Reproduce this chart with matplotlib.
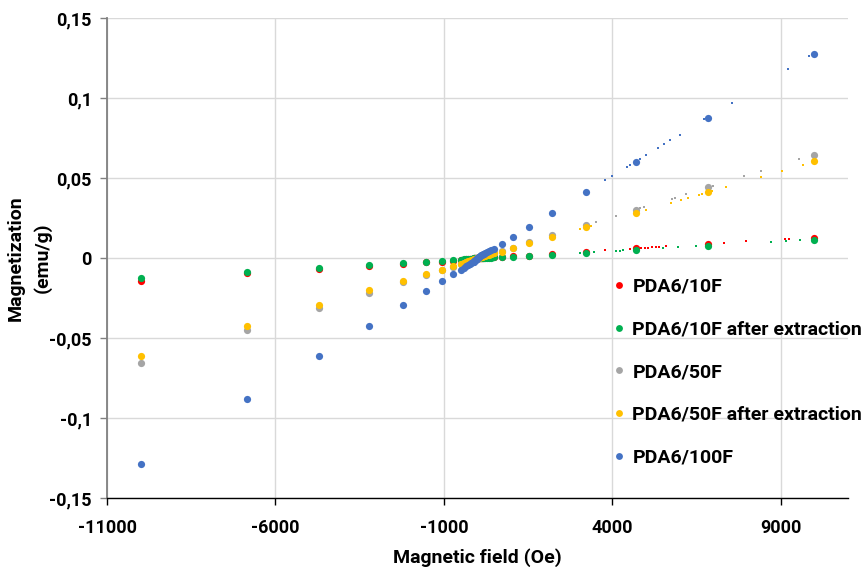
import matplotlib
matplotlib.use("Agg")
import matplotlib.pyplot as plt
from matplotlib.ticker import FuncFormatter

plt.rcParams['font.family'] = ['Roboto', 'DejaVu Sans']
plt.rcParams['font.weight'] = 'bold'
plt.rcParams['axes.unicode_minus'] = False

# magnetic field (Oe) for the measured points
field = [-10000, -6850, -4700, -3230, -2220, -1520, -1060, -720, -480, -400, -330, -270,
         -225, -180, -150, -120, -100, -70, -50, -30, -10, 10, 30, 50, 70, 100, 120, 150,
         180, 225, 270, 330, 400, 480, 720, 1060, 1520, 2220, 3230, 4700, 6850, 10000]

# magnetization (emu/g)
m_10f = [-0.0141, -0.0095, -0.0070, -0.0051, -0.0036, -0.0028, -0.0022, -0.0017, -0.0012, -0.0010,
         -0.0009, -0.0008, -0.0007, -0.0006, -0.0005, -0.0004, -0.0003, -0.0002, -0.0002, -0.0001,
         0.0000, 0.0000, 0.0001, 0.0002, 0.0002, 0.0003, 0.0003, 0.0003, 0.0004, 0.0004, 0.0005,
         0.0005, 0.0006, 0.0006, 0.0008, 0.0010, 0.0014, 0.0022, 0.0040, 0.0061, 0.0089, 0.0127]
m_10f_ext = [-0.0124, -0.0085, -0.0061, -0.0043, -0.0033, -0.0024, -0.0016, -0.0014, -0.0010, -0.0009,
             -0.0008, -0.0007, -0.0006, -0.0005, -0.0004, -0.0003, -0.0003, -0.0002, -0.0001, -0.0001,
             0.0000, 0.0000, 0.0001, 0.0001, 0.0001, 0.0002, 0.0002, 0.0002, 0.0002, 0.0003, 0.0003,
             0.0003, 0.0003, 0.0004, 0.0005, 0.0007, 0.0011, 0.0018, 0.0034, 0.0047, 0.0072, 0.0110]
m_50f = [-0.0655, -0.0452, -0.0314, -0.0218, -0.0152, -0.0105, -0.0075, -0.0054, -0.0038, -0.0032,
         -0.0027, -0.0022, -0.0019, -0.0016, -0.0013, -0.0011, -0.0009, -0.0006, -0.0004, -0.0002,
         -0.0001, 0.0001, 0.0002, 0.0004, 0.0005, 0.0007, 0.0009, 0.0011, 0.0013, 0.0016, 0.0019,
         0.0022, 0.0026, 0.0031, 0.0042, 0.0064, 0.0097, 0.0141, 0.0204, 0.0302, 0.0443, 0.0646]
m_50f_ext = [-0.0613, -0.0423, -0.0291, -0.0202, -0.0143, -0.0101, -0.0072, -0.0051, -0.0036, -0.0030,
             -0.0025, -0.0021, -0.0018, -0.0015, -0.0012, -0.0010, -0.0008, -0.0006, -0.0004, -0.0002,
             -0.0001, 0.0001, 0.0002, 0.0004, 0.0005, 0.0007, 0.0009, 0.0011, 0.0013, 0.0015, 0.0018,
             0.0021, 0.0025, 0.0029, 0.0039, 0.0060, 0.0093, 0.0130, 0.0193, 0.0281, 0.0412, 0.0604]
m_100f = [-0.1286, -0.0884, -0.0613, -0.0423, -0.0293, -0.0204, -0.0141, -0.0101, -0.0074, -0.0063,
          -0.0053, -0.0045, -0.0038, -0.0032, -0.0027, -0.0022, -0.0019, -0.0014, -0.0011, -0.0007,
          -0.0002, 0.0002, 0.0006, 0.0009, 0.0012, 0.0016, 0.0019, 0.0023, 0.0027, 0.0033, 0.0039,
          0.0046, 0.0052, 0.0058, 0.0086, 0.0130, 0.0191, 0.0283, 0.0412, 0.0598, 0.0874, 0.1275]

# the tiny stray points seen in the high field region
tiny_10f_h = [3770, 4316, 4537, 4852, 4963, 5073, 5171, 5291, 5389, 5589, 7317, 7964, 9136, 9246]
tiny_10f_m = [0.0047, 0.0053, 0.0055, 0.0061, 0.0061, 0.0064, 0.0066, 0.0066, 0.0068, 0.0072,
              0.0095, 0.0105, 0.0118, 0.0120]
tiny_10f_ext_h = [3046, 3463, 4098, 4218, 4316, 5508, 5937, 6474, 8718, 9145, 9583]
tiny_10f_ext_m = [0.0034, 0.0036, 0.0045, 0.0045, 0.0047, 0.0061, 0.0066, 0.0072, 0.0099, 0.0108, 0.0110]
tiny_50f_h = [3502, 4119, 4834, 4933, 5759, 5857, 6176, 6990, 7914, 8420, 9553]
tiny_50f_m = [0.0222, 0.0262, 0.0312, 0.0316, 0.0368, 0.0375, 0.0398, 0.0450, 0.0510, 0.0542, 0.0617]
tiny_50f_ext_h = [3046, 3374, 5013, 5738, 6036, 6253, 6563, 6662, 6969, 7377, 8420, 9037, 9651]
tiny_50f_ext_m = [0.0180, 0.0199, 0.0301, 0.0346, 0.0365, 0.0375, 0.0396, 0.0402, 0.0421, 0.0446,
                  0.0509, 0.0546, 0.0584]
tiny_100f_h = [3791, 3979, 4447, 4537, 4814, 4993, 5350, 5538, 5717, 5997, 6730, 7556, 9204, 9851]
tiny_100f_m = [0.0487, 0.0512, 0.0571, 0.0581, 0.0619, 0.0642, 0.0688, 0.0711, 0.0736, 0.0769,
               0.0866, 0.0969, 0.1181, 0.1264]

labels = ["PDA6/10F", "PDA6/10F after extraction", "PDA6/50F",
          "PDA6/50F after extraction", "PDA6/100F"]
colors = ["#ff0000", "#00b050", "#a5a5a5", "#ffc000", "#4472c4"]
series = [m_10f, m_10f_ext, m_50f, m_50f_ext, m_100f]
tiny = [(tiny_10f_h, tiny_10f_m), (tiny_10f_ext_h, tiny_10f_ext_m), (tiny_50f_h, tiny_50f_m),
        (tiny_50f_ext_h, tiny_50f_ext_m), (tiny_100f_h, tiny_100f_m)]

fig = plt.figure(figsize=(8.66, 5.67), dpi=100)
ax = fig.add_axes([0.1236, 0.1217, 0.8557, 0.8465])

for (th, tm), c in zip(tiny, colors):
    ax.plot(th, tm, 's', color=c, markersize=1.6, markeredgewidth=0)
for m, c, lab in zip(series, colors, labels):
    ax.plot(field, m, 'o', color=c, markersize=5.2, markeredgewidth=0, label=lab)

ax.set_xlim(-11000, 11000)
ax.set_ylim(-0.15, 0.15)
ax.set_xticks([-11000, -6000, -1000, 4000, 9000])
ax.set_yticks([-0.15, -0.1, -0.05, 0, 0.05, 0.1, 0.15])
ax.yaxis.set_major_formatter(FuncFormatter(lambda v, p: ('%g' % round(v, 2)).replace('.', ',')))
ax.grid(True, color='#d9d9d9', linewidth=1.0)
ax.set_axisbelow(True)
for s in ['top', 'right']:
    ax.spines[s].set_visible(False)
ax.spines['left'].set_color('#808080')
ax.spines['left'].set_linewidth(1.3)
ax.spines['bottom'].set_color('#000000')
ax.spines['bottom'].set_linewidth(1.0)
ax.tick_params(axis='y', direction='out', length=5, width=1, color='#808080', labelsize=13, pad=6)
ax.tick_params(axis='x', direction='out', length=5, width=1, color='#000000', labelsize=13, pad=10)
for t in ax.get_xticklabels() + ax.get_yticklabels():
    t.set_fontweight('bold')

ax.set_xlabel("Magnetic field (Oe)", fontsize=14, fontweight='bold', labelpad=8)
ax.set_ylabel("Magnetization\n(emu/g)", fontsize=14, fontweight='bold', labelpad=-2,
              linespacing=1.6)

fig.legend(loc='upper left', bbox_to_anchor=(0.700, 0.524), frameon=False, fontsize=14,
           markerscale=0.95, handlelength=0.5, handletextpad=0.45, labelspacing=1.27,
           borderaxespad=0)

fig.savefig("out.png", dpi=100)
